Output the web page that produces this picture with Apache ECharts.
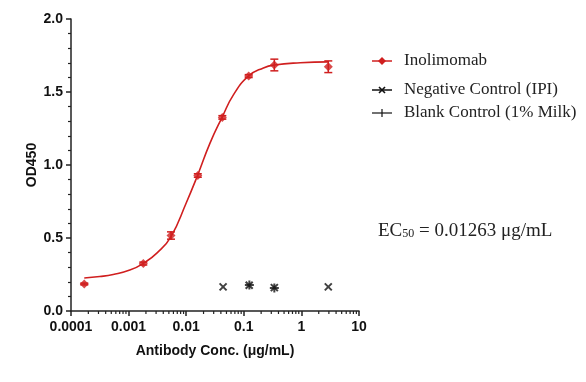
<!DOCTYPE html>
<html>
<head>
<meta charset="utf-8">
<script src="https://cdn.jsdelivr.net/npm/echarts@6/dist/echarts.min.js"></script>
<style>html,body{margin:0;padding:0;background:#fff}#c{width:586px;height:382px}</style>
</head>
<body>
<div id="c"></div>
<script>
// ---- data ----
const concentrations = [0.00017, 0.0018, 0.00545, 0.0159, 0.0424, 0.1216, 0.339, 2.93];
const inolimomabOD   = [0.185, 0.325, 0.517, 0.928, 1.326, 1.609, 1.685, 1.673];
const inolimomabErr  = [0.006, 0.010, 0.025, 0.012, 0.012, 0.010, 0.040, 0.040];
const fitConc = [0.00017, 0.000316, 0.00054, 0.00105, 0.0018, 0.00316, 0.00545, 0.01, 0.0158, 0.0259, 0.0424, 0.066, 0.1216, 0.219, 0.339, 0.955, 2.93];
const fitOD   = [0.226, 0.236, 0.250, 0.280, 0.326, 0.400, 0.510, 0.740, 0.930, 1.150, 1.330, 1.480, 1.610, 1.665, 1.685, 1.700, 1.706];
const negativeConc = [0.0437, 0.124, 0.339, 2.93];
const negativeOD   = [0.165, 0.176, 0.160, 0.165];
const blankConc = [0.125, 0.339];
const blankOD   = [0.178, 0.158];
const xTickValues = [0.0001, 0.001, 0.01, 0.1, 1, 10];
const xTickLabels = ['0.0001', '0.001', '0.01', '0.1', '1', '10'];
const yTickLabels = ['0.0', '0.5', '1.0', '1.5', '2.0'];

const RED = '#d01f1f';
const minorX = [];
for (let d = 0; d < xTickValues.length - 1; d++) {
  for (let k = 2; k <= 9; k++) minorX.push(xTickValues[d] * k);
}

const chart = echarts.init(document.getElementById('c'), null, {renderer: 'canvas'});
const bold = {fontFamily: 'Liberation Sans, Arial, sans-serif', fontWeight: 'bold', color: '#111'};
const xPath = 'path://M0,0 L10,10 M10,0 L0,10';
const plusPath = 'path://M5,0 L5,10 M0,5 L10,5';
const serif = '17px "Liberation Serif", "Times New Roman", serif';

chart.setOption({
  animation: false,
  backgroundColor: '#fff',
  grid: {left: 71, right: 227, top: 19, bottom: 71},
  xAxis: {
    type: 'log', logBase: 10, min: 0.0001, max: 10,
    name: 'Antibody Conc. (μg/mL)', nameLocation: 'middle', nameGap: 33,
    nameTextStyle: Object.assign({fontSize: 14}, bold),
    axisLine: {show: true, lineStyle: {color: '#222', width: 1.5}},
    axisTick: {show: true, length: 5, lineStyle: {color: '#222', width: 1.5}},
    minorTick: {show: false},
    splitLine: {show: false},
    axisLabel: Object.assign({fontSize: 14, margin: 9, formatter: function (v) {
      for (let i = 0; i < xTickValues.length; i++) if (Math.abs(Math.log10(v) - Math.log10(xTickValues[i])) < 1e-6) return xTickLabels[i];
      return '';
    }}, bold)
  },
  yAxis: {
    type: 'value', min: 0, max: 2, interval: 0.5,
    name: 'OD450', nameLocation: 'middle', nameGap: 30, nameRotate: 90,
    nameTextStyle: Object.assign({fontSize: 14}, bold),
    axisLine: {show: true, lineStyle: {color: '#222', width: 1.5}},
    axisTick: {show: true, length: 5, lineStyle: {color: '#222', width: 1.5}},
    minorTick: {show: true, splitNumber: 5, length: 3, lineStyle: {color: '#222', width: 1.2}},
    splitLine: {show: false},
    axisLabel: Object.assign({fontSize: 14, margin: 8, formatter: function (v) {
      return yTickLabels[Math.round(v / 0.5)];
    }}, bold)
  },
  series: [
    {
      name: 'fit', type: 'line', smooth: 0.5, showSymbol: false,
      data: fitConc.map((c, i) => [c, fitOD[i]]),
      lineStyle: {color: RED, width: 1.6}, z: 2
    },
    {
      name: 'errors', type: 'custom', z: 3,
      data: concentrations.map((c, i) => [c, inolimomabOD[i], inolimomabErr[i]]),
      renderItem: function (params, api) {
        const x = api.value(0), y = api.value(1), e = api.value(2);
        const top = api.coord([x, y + e]);
        const bot = api.coord([x, y - e]);
        const w = 4;
        const st = {stroke: RED, lineWidth: 1.5};
        return {type: 'group', children: [
          {type: 'line', shape: {x1: top[0], y1: top[1], x2: bot[0], y2: bot[1]}, style: st},
          {type: 'line', shape: {x1: top[0] - w, y1: top[1], x2: top[0] + w, y2: top[1]}, style: st},
          {type: 'line', shape: {x1: bot[0] - w, y1: bot[1], x2: bot[0] + w, y2: bot[1]}, style: st}
        ]};
      }
    },
    {
      name: 'Inolimomab', type: 'scatter', symbol: 'diamond', symbolSize: 9, z: 4,
      data: concentrations.map((c, i) => [c, inolimomabOD[i]]),
      itemStyle: {color: RED}
    },
    {
      name: 'Negative Control (IPI)', type: 'scatter', symbol: xPath, symbolSize: 7, z: 4,
      data: negativeConc.map((c, i) => [c, negativeOD[i]]),
      itemStyle: {color: 'rgba(0,0,0,0)', borderColor: '#111', borderWidth: 2}
    },
    {
      name: 'Blank Control (1% Milk)', type: 'scatter', symbol: plusPath, symbolSize: 9, z: 4,
      data: blankConc.map((c, i) => [c, blankOD[i]]),
      itemStyle: {color: 'rgba(0,0,0,0)', borderColor: '#111', borderWidth: 2}
    },
    {
      name: 'minorTicksX', type: 'custom', silent: true, clip: false, z: 5,
      data: minorX.map(v => [v, 0]),
      renderItem: function (params, api) {
        const p = api.coord([api.value(0), 0]);
        return {type: 'line', shape: {x1: p[0], y1: p[1], x2: p[0], y2: p[1] + 3}, style: {stroke: '#222', lineWidth: 1.2}};
      }
    }
  ],
  graphic: [
    {type: 'line', shape: {x1: 372, y1: 61, x2: 392, y2: 61}, style: {stroke: RED, lineWidth: 1.5}},
    {type: 'polygon', shape: {points: [[382, 57], [386, 61], [382, 65], [378, 61]]}, style: {fill: RED}},
    {type: 'text', left: 404, top: 52, style: {text: 'Inolimomab', font: serif, fill: '#222'}},
    {type: 'line', shape: {x1: 372, y1: 90, x2: 392, y2: 90}, style: {stroke: '#111', lineWidth: 1.5}},
    {type: 'line', shape: {x1: 379, y1: 87, x2: 385, y2: 93}, style: {stroke: '#111', lineWidth: 1.6}},
    {type: 'line', shape: {x1: 385, y1: 87, x2: 379, y2: 93}, style: {stroke: '#111', lineWidth: 1.6}},
    {type: 'text', left: 404, top: 81, style: {text: 'Negative Control (IPI)', font: serif, fill: '#222'}},
    {type: 'line', shape: {x1: 372, y1: 113, x2: 392, y2: 113}, style: {stroke: '#111', lineWidth: 1.2}},
    {type: 'line', shape: {x1: 382, y1: 109, x2: 382, y2: 117}, style: {stroke: '#111', lineWidth: 1.2}},
    {type: 'text', left: 404, top: 104, style: {text: 'Blank Control (1% Milk)', font: serif, fill: '#222'}},
    {type: 'text', left: 378, top: 222, style: {
      text: '{a|EC}{s|50}{a| = 0.01263 μg/mL}',
      rich: {
        a: {fontFamily: 'Liberation Serif, Times New Roman, serif', fontSize: 19, fill: '#222', color: '#222', verticalAlign: 'bottom'},
        s: {fontFamily: 'Liberation Serif, Times New Roman, serif', fontSize: 12, fill: '#222', color: '#222', verticalAlign: 'bottom', padding: [0, 0, 1, 0]}
      }
    }}
  ]
});
</script>
</body>
</html>
